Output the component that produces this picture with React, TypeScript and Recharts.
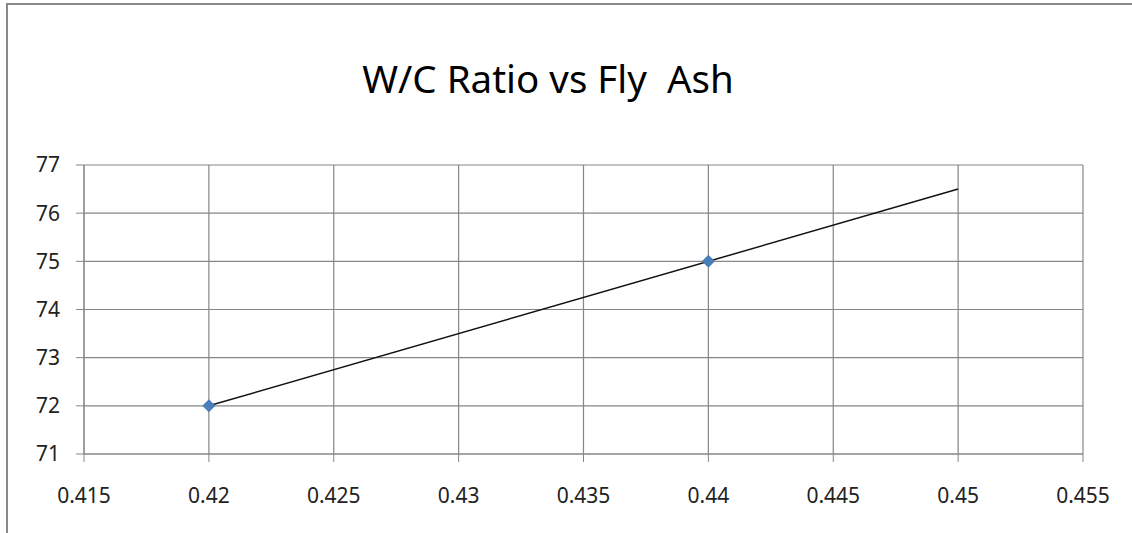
import React from 'react';
import { ComposedChart, Scatter, Line, XAxis, YAxis, CartesianGrid } from 'recharts';

// measured points
const wcRatio = [0.42, 0.44];
const flyAsh = [72, 75];

// linear trendline endpoints
const trendX = [0.42, 0.45];
const trendY = [72, 76.5];

const xTicks = [0.415, 0.42, 0.425, 0.43, 0.435, 0.44, 0.445, 0.45, 0.455];
const yTicks = [71, 72, 73, 74, 75, 76, 77];

const points = wcRatio.map((x, i) => ({ x, y: flyAsh[i] }));
const trend = trendX.map((x, i) => ({ x, y: trendY[i] }));

const FONT = '"Noto Sans", "Open Sans", sans-serif';
const GRID = '#868686';

const Diamond = (props: any) => {
  const { cx, cy } = props;
  if (cx == null || cy == null) return null;
  const r = 6.5;
  return (
    <polygon
      points={`${cx},${cy - r} ${cx + r},${cy} ${cx},${cy + r} ${cx - r},${cy}`}
      fill="#4a7ebb"
    />
  );
};

export default function App() {
  const tick = { fill: '#222', fontSize: 21, fontFamily: FONT };
  return (
    <div style={{ position: 'fixed', left: 0, top: 0, width: 1132, height: 533, overflow: 'hidden', background: '#fff' }}>
      <style>{'html,body{margin:0;overflow:hidden}'}</style>
      <ComposedChart width={1132} height={533} margin={{ top: 165, right: 49, bottom: 0, left: 0 }}>
        <CartesianGrid stroke={GRID} strokeWidth={1.2} />
        <XAxis
          type="number"
          dataKey="x"
          domain={[0.415, 0.455]}
          ticks={xTicks}
          allowDataOverflow
          height={79}
          tickSize={8}
          tickMargin={26}
          stroke={GRID}
          tick={tick}
          tickFormatter={(v: number) => String(v)}
        />
        <YAxis
          type="number"
          dataKey="y"
          domain={[71, 77]}
          ticks={yTicks}
          width={84}
          tickSize={8}
          tickMargin={16}
          stroke={GRID}
          tick={tick}
        />
        <Line
          data={trend}
          dataKey="y"
          type="linear"
          stroke="#111"
          strokeWidth={1.5}
          dot={false}
          activeDot={false}
          isAnimationActive={false}
        />
        <Scatter data={points} dataKey="y" shape={<Diamond />} isAnimationActive={false} />
      </ComposedChart>
      {/* chart frame (left and top edges) and title */}
      <svg width={1132} height={533} style={{ position: 'absolute', left: 0, top: 0, pointerEvents: 'none' }}>
        <path d="M7,533 V4 H1132" fill="none" stroke="#888" strokeWidth={2} />
        <text x={548} y={93} textAnchor="middle" fontFamily={FONT} fontSize={38.5} fill="#000" style={{ whiteSpace: 'pre' }}>
          {'W/C Ratio vs Fly  Ash'}
        </text>
      </svg>
    </div>
  );
}
